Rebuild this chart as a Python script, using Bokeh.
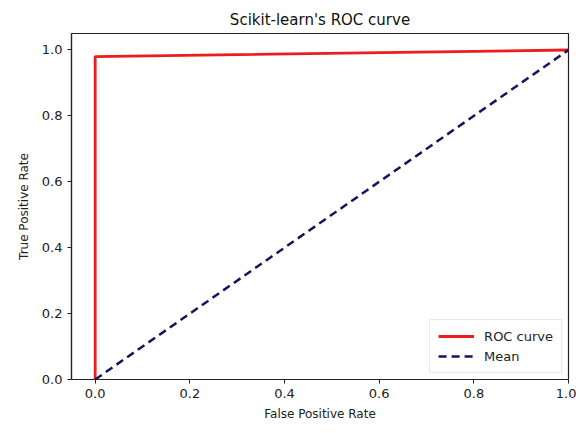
from bokeh.plotting import figure
from bokeh.models import Range1d, FixedTicker, Legend, LegendItem
from bokeh.embed import file_html
from bokeh.resources import INLINE

# ROC curve points (false positive rate, true positive rate)
fpr = [0.0, 0.0, 1.0]
tpr = [0.0, 0.98, 1.0]

# chance-level diagonal
mean_x = [0.0, 1.0]
mean_y = [0.0, 1.0]

ticks = [0.0, 0.2, 0.4, 0.6, 0.8, 1.0]
tick_labels = {0.0: "0.0", 0.2: "0.2", 0.4: "0.4", 0.6: "0.6", 0.8: "0.8", 1.0: "1.0"}

FONT = "DejaVu Sans"

p = figure(width=576, height=433, output_backend="svg", toolbar_location=None,
           x_range=Range1d(-0.05, 1.0), y_range=Range1d(0.0, 1.05),
           title="Scikit-learn's ROC curve")
p.min_border_left = 71
p.min_border_right = 8
p.min_border_top = 33
p.min_border_bottom = 54

p.title.align = "center"
p.title.text_font = FONT
p.title.text_font_size = "15px"
p.title.text_font_style = "normal"
p.title.text_color = "#111111"

p.grid.visible = False
p.background_fill_color = "white"
p.border_fill_color = "white"
p.outline_line_color = "#222222"
p.outline_line_width = 1.2

for ax in (p.xaxis[0], p.yaxis[0]):
    ax.ticker = FixedTicker(ticks=ticks)
    ax.major_label_overrides = tick_labels
    ax.major_label_text_font = FONT
    ax.major_label_text_font_size = "13px"
    ax.major_label_text_color = "#222222"
    ax.axis_label_text_font = FONT
    ax.axis_label_text_font_size = "12px"
    ax.axis_label_text_font_style = "normal"
    ax.axis_label_text_color = "#222222"
    ax.minor_tick_line_color = None
    ax.major_tick_in = 0
    ax.major_tick_out = 4
    ax.major_tick_line_color = "#222222"
    ax.axis_line_color = "#222222"
    ax.axis_line_width = 1.2

p.xaxis.axis_label = "False Positive Rate"
p.yaxis.axis_label = "True Positive Rate"
p.xaxis.axis_label_standoff = 6
p.yaxis.axis_label_standoff = 8

roc = p.line(fpr, tpr, line_color="#ee1c1c", line_width=2.8)
mean = p.line(mean_x, mean_y, line_color="#14145e", line_width=2.5, line_dash="8 5")

legend = Legend(items=[LegendItem(label="ROC curve", renderers=[roc]),
                       LegendItem(label="Mean", renderers=[mean])],
                location="bottom_right")
legend.label_text_font = FONT
legend.label_text_font_size = "13px"
legend.label_text_color = "#222222"
legend.glyph_width = 36
legend.glyph_height = 16
legend.label_standoff = 10
legend.spacing = 4
legend.padding = 8
legend.margin = 6
legend.border_line_color = "#d0d0d0"
legend.background_fill_alpha = 0.9
p.add_layout(legend)

open("out.html", "w").write(file_html(p, INLINE))
